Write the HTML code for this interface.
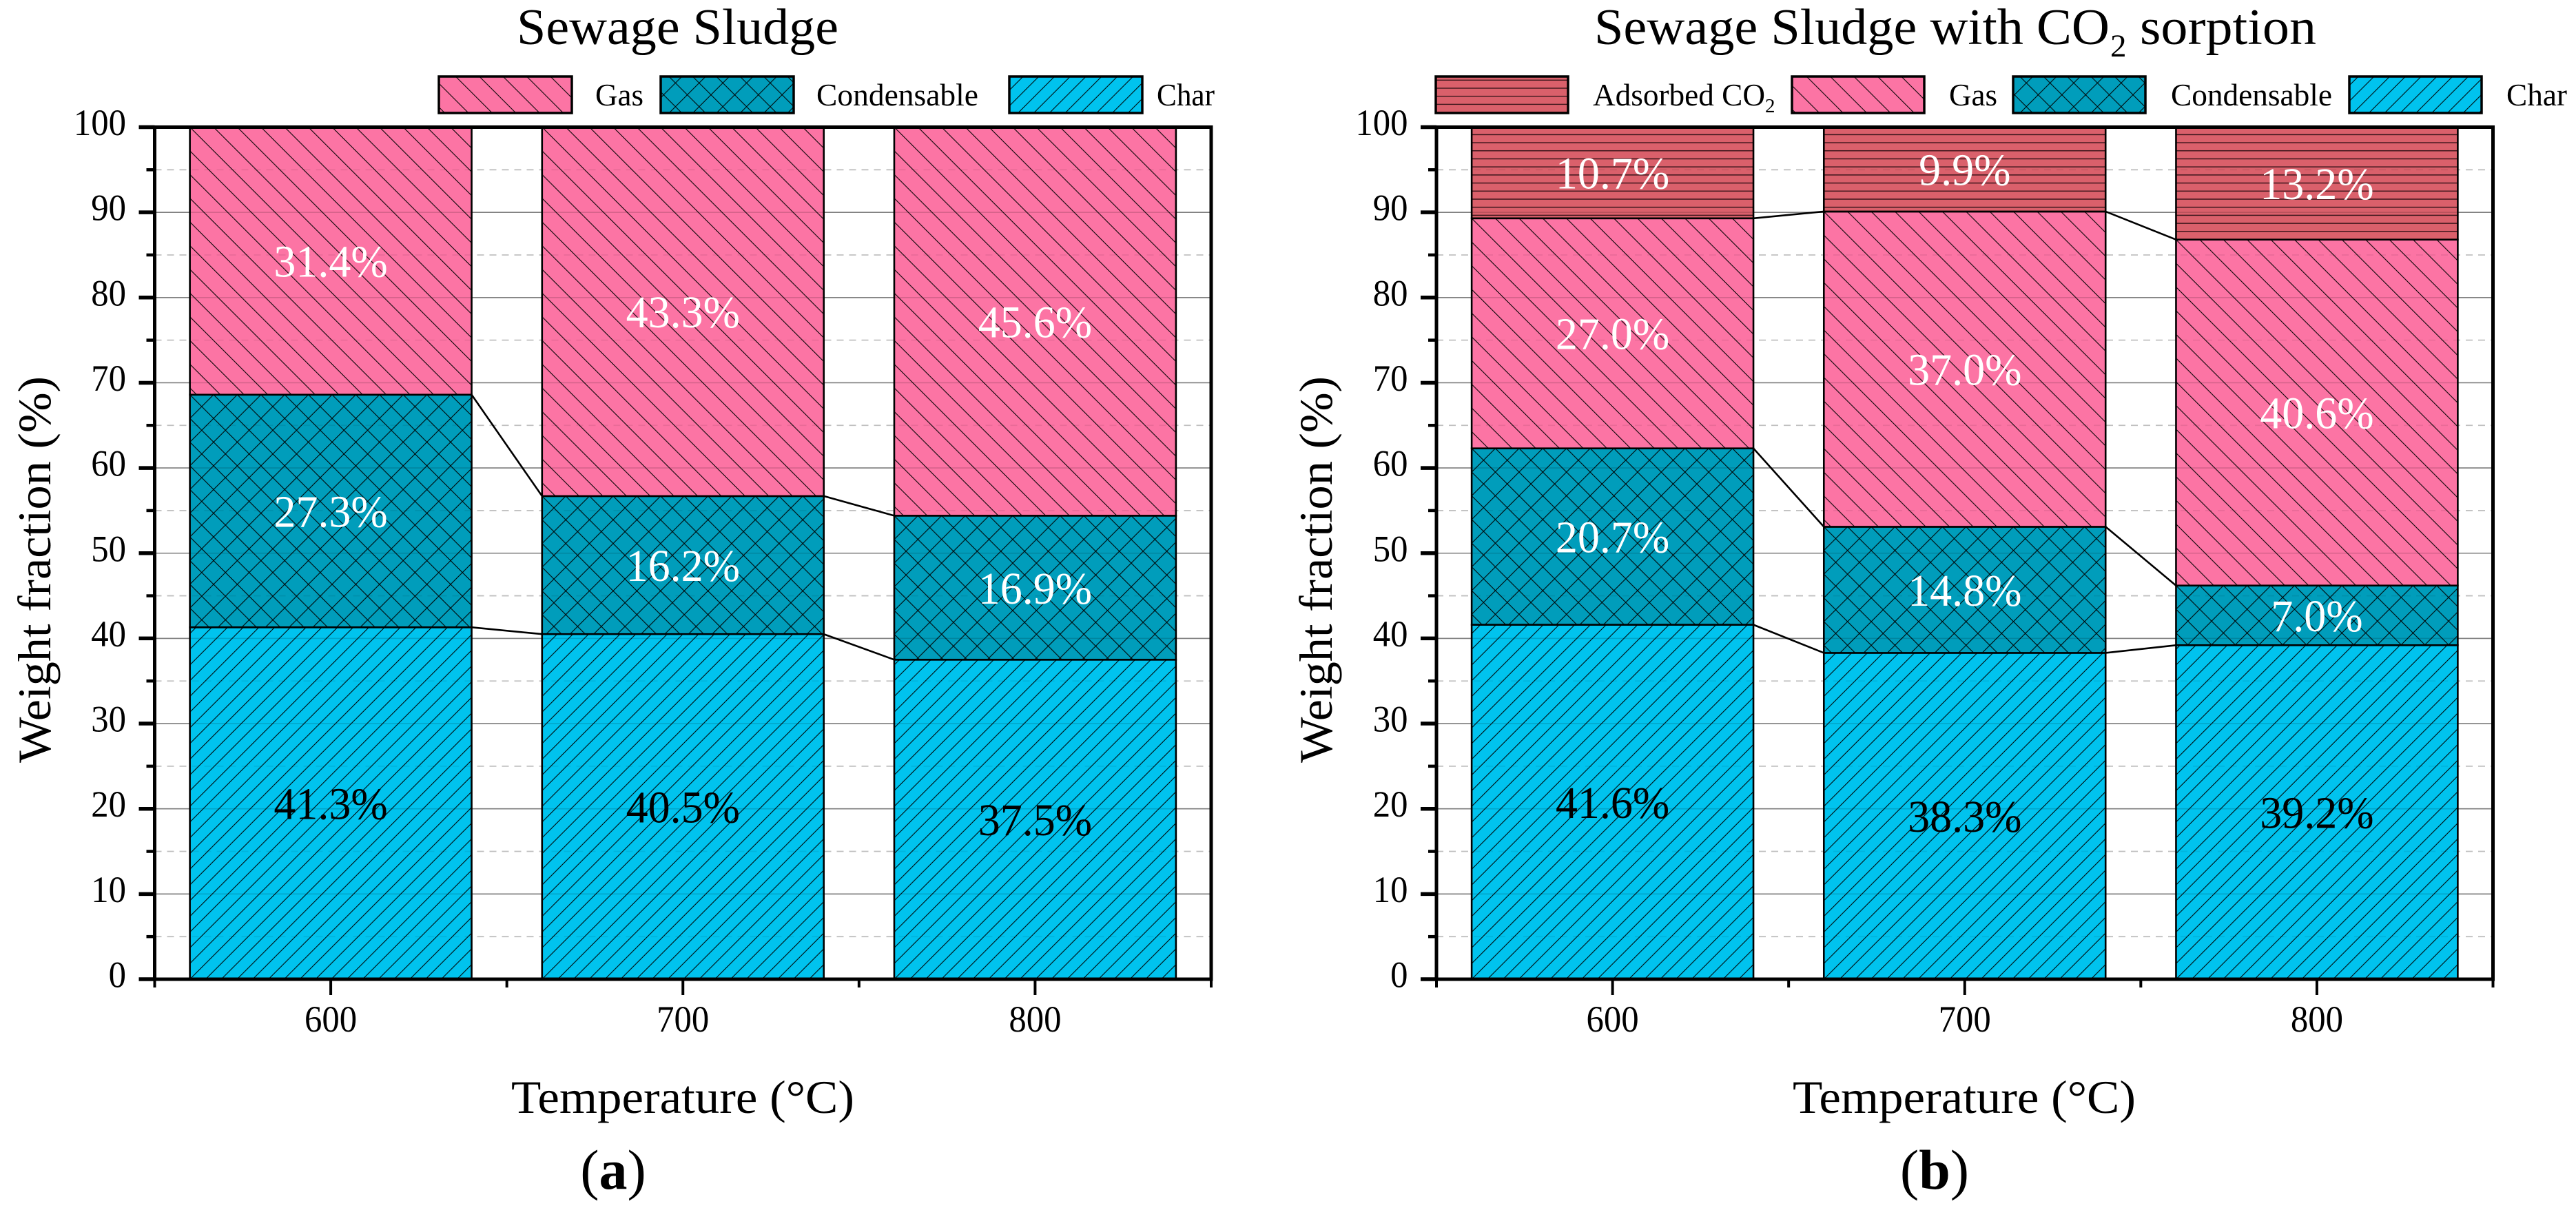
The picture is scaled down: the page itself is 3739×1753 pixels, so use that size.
<!DOCTYPE html>
<html lang="en">
<head>
<meta charset="utf-8">
<title>Sewage Sludge product fractions</title>
<style>
html,body{margin:0;padding:0;background:#fff;}
svg{display:block;}
text{font-family:"Liberation Serif",serif;fill:#000;}
</style>
</head>
<body>
<svg id="figure" xmlns="http://www.w3.org/2000/svg" width="3739" height="1753" viewBox="0 0 3739 1753">
<defs id="defs">
<pattern id="lg-gas" patternUnits="userSpaceOnUse" width="34.4" height="34.4"><rect width="34.4" height="34.4" fill="#fc74a4"/><path d="M-4,-4L38.4,38.4M-4,30.4L4,38.4M30.4,-4L38.4,4" stroke="#000" stroke-width="1"/></pattern>
<pattern id="lg-cond" patternUnits="userSpaceOnUse" width="34.4" height="34.4"><rect width="34.4" height="34.4" fill="#009dbb"/><path d="M-4,-4L38.4,38.4M-4,38.4L38.4,-4" stroke="#000" stroke-width="1"/></pattern>
<pattern id="lg-char" patternUnits="userSpaceOnUse" width="22.8" height="22.8"><rect width="22.8" height="22.8" fill="#00c3ee"/><path d="M-4,26.8L26.8,-4M-4,4L4,-4M18.8,26.8L26.8,18.8" stroke="#000" stroke-width="1"/></pattern>
<pattern id="lg-ads" patternUnits="userSpaceOnUse" width="11.7" height="11.7"><rect width="11.7" height="11.7" fill="#da606b"/><path d="M0,11L11.7,11" stroke="#301015" stroke-width="1.3"/></pattern>
</defs>

<g id="panel-a">
  <text x="750" y="64" font-size="74" textLength="467" lengthAdjust="spacingAndGlyphs">Sewage Sludge</text>
  <g>
    <rect x="637" y="111" width="193" height="53" fill="url(#lg-gas)" stroke="#000" stroke-width="3.5"/>
    <text x="864" y="153" font-size="46" textLength="70" lengthAdjust="spacingAndGlyphs">Gas</text>
    <rect x="959" y="111" width="193" height="53" fill="url(#lg-cond)" stroke="#000" stroke-width="3.5"/>
    <text x="1185" y="153" font-size="46" textLength="235" lengthAdjust="spacingAndGlyphs">Condensable</text>
    <rect x="1465" y="111" width="193" height="53" fill="url(#lg-char)" stroke="#000" stroke-width="3.5"/>
    <text x="1679" y="153" font-size="46" textLength="84" lengthAdjust="spacingAndGlyphs">Char</text>
  </g>
  <text x="742" y="1615" font-size="68" textLength="498" lengthAdjust="spacingAndGlyphs">Temperature (°C)</text>
  <text transform="translate(73 1107) rotate(-90)" font-size="68" textLength="561" lengthAdjust="spacingAndGlyphs">Weight fraction (%)</text>
  <text x="890" y="1725" font-size="82" text-anchor="middle">(<tspan font-weight="bold">a</tspan>)</text>
</g>

<g id="panel-b">
  <text font-size="74" y="64"><tspan x="2314" textLength="748" lengthAdjust="spacingAndGlyphs">Sewage Sludge with CO</tspan><tspan x="3063" dy="18" font-size="47">2</tspan><tspan x="3106" dy="-18" textLength="256" lengthAdjust="spacingAndGlyphs">sorption</tspan></text>
  <g>
    <rect x="2084" y="111" width="192" height="53" fill="url(#lg-ads)" stroke="#000" stroke-width="3.5"/>
    <text y="153" font-size="46"><tspan x="2312" textLength="250" lengthAdjust="spacingAndGlyphs">Adsorbed CO</tspan><tspan x="2562" dy="10" font-size="29">2</tspan></text>
    <rect x="2601" y="111" width="192" height="53" fill="url(#lg-gas)" stroke="#000" stroke-width="3.5"/>
    <text x="2829" y="153" font-size="46" textLength="70" lengthAdjust="spacingAndGlyphs">Gas</text>
    <rect x="2922" y="111" width="192" height="53" fill="url(#lg-cond)" stroke="#000" stroke-width="3.5"/>
    <text x="3151" y="153" font-size="46" textLength="234" lengthAdjust="spacingAndGlyphs">Condensable</text>
    <rect x="3410" y="111" width="192" height="53" fill="url(#lg-char)" stroke="#000" stroke-width="3.5"/>
    <text x="3638" y="153" font-size="46" textLength="88" lengthAdjust="spacingAndGlyphs">Char</text>
  </g>
  <text x="2602" y="1615" font-size="68" textLength="498" lengthAdjust="spacingAndGlyphs">Temperature (°C)</text>
  <text transform="translate(1933 1107) rotate(-90)" font-size="68" textLength="561" lengthAdjust="spacingAndGlyphs">Weight fraction (%)</text>
  <text x="2808" y="1725" font-size="82" text-anchor="middle">(<tspan font-weight="bold">b</tspan>)</text>
</g>
</svg>

<script>
// Chart data
const categories = [600, 700, 800];
const yTickLabels = [0, 10, 20, 30, 40, 50, 60, 70, 80, 90, 100];
const yMinorTicks = [5, 15, 25, 35, 45, 55, 65, 75, 85, 95];
const xMinorTicks = [550, 650, 750, 850];

const charA = [41.3, 40.5, 37.5];
const condensableA = [27.3, 16.2, 16.9];
const gasA = [31.4, 43.3, 45.6];

const charB = [41.6, 38.3, 39.2];
const condensableB = [20.7, 14.8, 7.0];
const gasB = [27.0, 37.0, 40.6];
const adsorbedB = [10.7, 9.9, 13.2];

const NS = 'http://www.w3.org/2000/svg';
const svg = document.getElementById('figure');
const defs = document.getElementById('defs');
const PLOT_TOP = 184.5;
const PLOT_BOTTOM = 1421;
const PLOT_WIDTH = 1533.5;
const BAR_UNITS = 80;

function mk(tag, attrs, parent) {
  const el = document.createElementNS(NS, tag);
  for (const k in attrs) el.setAttribute(k, attrs[k]);
  parent.appendChild(el);
  return el;
}
function yScale(v) {
  return PLOT_BOTTOM - (v / 100) * (PLOT_BOTTOM - PLOT_TOP);
}
function xScale(v, left) {
  return left + ((v - 550) / 300) * PLOT_WIDTH;
}
function squeeze(textEl, factor) {
  const natural = textEl.getComputedTextLength();
  textEl.setAttribute('textLength', natural * factor);
  textEl.setAttribute('lengthAdjust', 'spacingAndGlyphs');
}

let patternCount = 0;
function makePattern(kind, rx, ry, rh) {
  const id = 'seg-' + (patternCount++);
  const P = { gas: 34.4, cond: 34.4, char: 22.8, ads: 11.7 }[kind];
  const fills = { gas: '#fc74a4', cond: '#009dbb', char: '#00c3ee', ads: '#da606b' };
  const oy = kind === 'char' ? ry + rh : ry;
  const pat = mk('pattern', { id: id, patternUnits: 'userSpaceOnUse', width: P, height: P, patternTransform: 'translate(' + rx + ' ' + oy + ')' }, defs);
  mk('rect', { width: P, height: P, fill: fills[kind] }, pat);
  let d = '';
  if (kind === 'gas') d = 'M-4,-4L' + (P + 4) + ',' + (P + 4) + 'M-4,' + (P - 4) + 'L4,' + (P + 4) + 'M' + (P - 4) + ',-4L' + (P + 4) + ',4';
  if (kind === 'cond') d = 'M-4,-4L' + (P + 4) + ',' + (P + 4) + 'M-4,' + (P + 4) + 'L' + (P + 4) + ',-4';
  if (kind === 'char') d = 'M-4,' + (P + 4) + 'L' + (P + 4) + ',-4M-4,4L4,-4M' + (P - 4) + ',' + (P + 4) + 'L' + (P + 4) + ',' + (P - 4);
  if (kind === 'ads') d = 'M0,' + (P - 0.8) + 'L' + P + ',' + (P - 0.8);
  mk('path', { d: d, stroke: kind === 'ads' ? '#301015' : '#000', 'stroke-width': kind === 'ads' ? 1.4 : 1.05, fill: 'none' }, pat);
  return 'url(#' + id + ')';
}

function drawGrid(root, left, right, majorColor, minorColor) {
  const grid = mk('g', {}, root);
  
  
  yTickLabels.forEach(function (t) {
    if (t === 0 || t === 100) return;
    const line = mk('line', { x1: left, x2: right, y1: yScale(t), y2: yScale(t), stroke: majorColor, 'stroke-width': 1.6 }, grid);
    
    
  });
  yMinorTicks.forEach(function (t) {
    const line = mk('line', { x1: left, x2: right, y1: yScale(t), y2: yScale(t), stroke: minorColor, 'stroke-width': 1.8, 'stroke-dasharray': '10 8' }, grid);
    
    
  });
}

function drawPanel(panelId, left, series) {
  const root = document.getElementById(panelId);
  const right = left + PLOT_WIDTH;

  // gridlines behind the bars
  drawGrid(root, left, right, 'rgba(0,0,0,0.42)', 'rgba(0,0,0,0.19)');

  // stacked bars
  const bars = mk('g', {}, root);
  
  
  const cumulative = categories.map(() => 0);
  const boundaries = [];
  series.forEach(function (s) {
    const tops = [];
    s.values.forEach(function (v, i) {
      const base = cumulative[i];
      const top = base + v;
      cumulative[i] = top;
      tops.push(top);
      const x0 = xScale(categories[i] - BAR_UNITS / 2, left);
      const x1 = xScale(categories[i] + BAR_UNITS / 2, left);
      const y0 = yScale(top);
      const y1 = yScale(base);
      const fill = makePattern(s.kind, x0, y0, y1 - y0);
      const rect = mk('rect', { x: x0, y: y0, width: x1 - x0, height: y1 - y0, fill: fill, stroke: '#000', 'stroke-width': 2.6 }, bars);
      
      
    });
    boundaries.push(tops);
  });

  // faint tint of the gridlines over the bars
  drawGrid(root, left, right, 'rgba(0,0,0,0.15)', 'rgba(0,0,0,0.07)');

  // connector lines between adjacent bars
  const connectors = mk('g', {}, root);
  
  
  boundaries.forEach(function (tops) {
    for (let i = 0; i < tops.length - 1; i++) {
      const line = mk('line', {
        x1: xScale(categories[i] + BAR_UNITS / 2, left), y1: yScale(tops[i]),
        x2: xScale(categories[i + 1] - BAR_UNITS / 2, left), y2: yScale(tops[i + 1]),
        stroke: '#000', 'stroke-width': 2.6
      }, connectors);
      
      
    }
  });

  // value labels
  const labels = mk('g', {}, root);
  
  
  const running = categories.map(() => 0);
  series.forEach(function (s) {
    s.values.forEach(function (v, i) {
      const mid = running[i] + v / 2;
      running[i] += v;
      const t = mk('text', { x: xScale(categories[i], left), y: yScale(mid) + 23, 'font-size': 66, 'text-anchor': 'middle', style: 'fill:' + s.labelColor }, labels);
      
      
      t.textContent = v.toFixed(1) + '%';
      squeeze(t, 0.97);
    });
  });

  // axes
  const axes = mk('g', {}, root);
  
  
  const frame = mk('rect', { x: left, y: PLOT_TOP, width: PLOT_WIDTH, height: PLOT_BOTTOM - PLOT_TOP, fill: 'none', stroke: '#000', 'stroke-width': 5 }, axes);
  
  

  yTickLabels.forEach(function (t) {
    const tick = mk('line', { x1: left - 23, x2: left, y1: yScale(t), y2: yScale(t), stroke: '#000', 'stroke-width': 5.5 }, axes);
    
    
    const lab = mk('text', { x: left - 41.5, y: yScale(t) + 11.5, 'font-size': 54, 'text-anchor': 'end' }, axes);
    
    
    lab.textContent = String(t);
    squeeze(lab, 0.94);
  });
  yMinorTicks.forEach(function (t) {
    const tick = mk('line', { x1: left - 12, x2: left, y1: yScale(t), y2: yScale(t), stroke: '#000', 'stroke-width': 4.5 }, axes);
    
    
  });
  categories.forEach(function (c) {
    const tick = mk('line', { x1: xScale(c, left), x2: xScale(c, left), y1: PLOT_BOTTOM, y2: PLOT_BOTTOM + 23, stroke: '#000', 'stroke-width': 4 }, axes);
    
    
    const lab = mk('text', { x: xScale(c, left), y: 1497, 'font-size': 54, 'text-anchor': 'middle' }, axes);
    
    
    lab.textContent = String(c);
    squeeze(lab, 0.94);
  });
  xMinorTicks.forEach(function (c) {
    const tick = mk('line', { x1: xScale(c, left), x2: xScale(c, left), y1: PLOT_BOTTOM, y2: PLOT_BOTTOM + 12, stroke: '#000', 'stroke-width': 4 }, axes);
    
    
  });
}

drawPanel('panel-a', 224.5, [
  { kind: 'char', values: charA, labelColor: '#000' },
  { kind: 'cond', values: condensableA, labelColor: '#fff' },
  { kind: 'gas', values: gasA, labelColor: '#fff' }
]);
drawPanel('panel-b', 2085, [
  { kind: 'char', values: charB, labelColor: '#000' },
  { kind: 'cond', values: condensableB, labelColor: '#fff' },
  { kind: 'gas', values: gasB, labelColor: '#fff' },
  { kind: 'ads', values: adsorbedB, labelColor: '#fff' }
]);
</script>
</body>
</html>
